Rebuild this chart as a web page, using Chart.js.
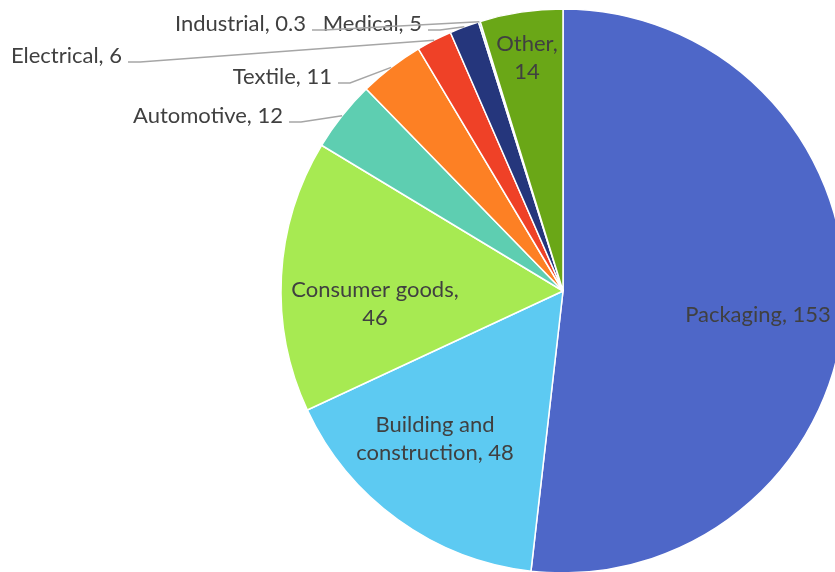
<!DOCTYPE html>
<html>
<head>
<meta charset="utf-8">
<script src="https://cdn.jsdelivr.net/npm/chart.js@4.4.1/dist/chart.umd.min.js"></script>
<style>
  html, body { margin: 0; padding: 0; background: #fff; overflow: hidden; width: 835px; height: 572px; }
  #wrap { position: absolute; left: 0; top: 0; width: 1200px; height: 620px; }
</style>
</head>
<body>
<div id="wrap"><canvas id="mycanvas"></canvas></div>
<script>
// ** Plastic use by sector - pie

var sectors = ['Packaging', 'Building and construction', 'Consumer goods', 'Automotive',
	'Textile', 'Electrical', 'Medical', 'Industrial', 'Other'];
var amounts = [153, 48, 46, 12, 11, 6, 5, 0.3, 14];
var colours = ['#4E67C8', '#5DCAF2', '#A7EA52', '#5ECEB1', '#FD8024',
	'#EF4127', '#25367C', '#49A8E0', '#6AA717'];

// label text lines, as shown on the chart
var labelLines = [
	['Packaging, 153'],
	['Building and', 'construction, 48'],
	['Consumer goods,', '46'],
	['Automotive, 12'],
	['Textile, 11'],
	['Electrical, 6'],
	['Medical, 5'],
	['Industrial, 0.3'],
	['Other,', '14']
];

// where each label sits (inside = centred, outside = right edge + leader line)
var labelPlace = [
	{ x: 758, y: 315, inside: true },
	{ x: 435, y: 425, inside: true },
	{ x: 375, y: 290, inside: true },
	{ x: 283, y: 116, inside: false },
	{ x: 332, y: 77, inside: false },
	{ x: 122, y: 56, inside: false },
	{ x: 422, y: 24, inside: false },
	{ x: 306, y: 24, inside: false },
	{ x: 527, y: 44, inside: true }
];

var fontSpec = '22px Lato';
var lineGap = 28;

var pieLabels = {
	id: 'pieLabels',
	afterDatasetsDraw: function(chart) {
		var ctx = chart.ctx;
		var arcs = chart.getDatasetMeta(0).data;
		ctx.save();
		ctx.font = fontSpec;
		ctx.textBaseline = 'middle';
		for (var i = 0; i < arcs.length; i++) {
			var el = arcs[i];
			var p = labelPlace[i];
			var lines = labelLines[i];
			if (p.inside) {
				ctx.textAlign = 'center';
				ctx.fillStyle = '#404040';
				for (var j = 0; j < lines.length; j++) {
					ctx.fillText(lines[j], p.x, p.y + j * lineGap);
				}
			} else {
				ctx.textAlign = 'right';
				ctx.fillStyle = '#404040';
				ctx.fillText(lines[0], p.x, p.y);
				// leader line to the middle of the slice's outer edge
				var mid = (el.startAngle + el.endAngle) / 2;
				var ax = el.x + el.outerRadius * Math.cos(mid);
				var ay = el.y + el.outerRadius * Math.sin(mid);
				ctx.strokeStyle = '#A6A6A6';
				ctx.lineWidth = 1.5;
				ctx.beginPath();
				ctx.moveTo(p.x + 6, p.y + 6);
				ctx.lineTo(p.x + 18, p.y + 6);
				ctx.lineTo(ax, ay);
				ctx.stroke();
			}
		}
		ctx.restore();
	}
};

var chartdata = {
	labels: sectors,
	datasets: [{
		data: amounts,
		backgroundColor: colours,
		borderColor: '#FFFFFF',
		borderWidth: 1.5,
		radius: 282
	}]
};

var pieChart = new Chart(document.getElementById('mycanvas'), {
	type: 'pie',
	data: chartdata,
	options: {
		responsive: true,
		maintainAspectRatio: false,
		animation: false,
		layout: {
			padding: { left: 0, right: 74, top: 0, bottom: 38 }
		},
		plugins: {
			legend: { display: false },
			tooltip: { enabled: false }
		}
	},
	plugins: [pieLabels]
});
</script>
</body>
</html>
